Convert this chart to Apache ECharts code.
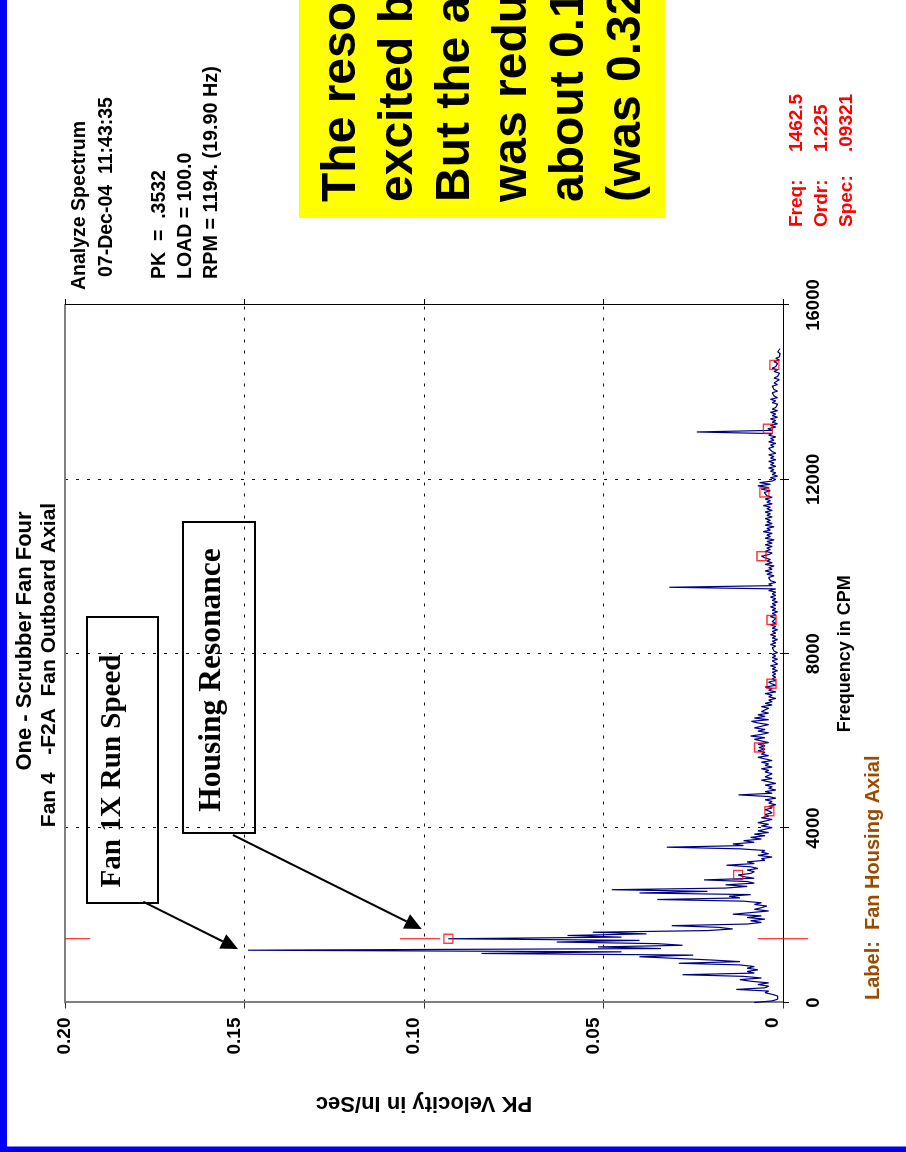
<!DOCTYPE html>
<html>
<head>
<meta charset="utf-8">
<title>Fan 4 - Analyze Spectrum</title>
<script src="https://cdn.jsdelivr.net/npm/echarts@6/dist/echarts.min.js"></script>
<style>
  html, body { margin: 0; padding: 0; background: #fff; overflow: hidden; }
  #page { position: absolute; left: 0; top: 0; width: 906px; height: 1152px; overflow: hidden; background: #fff; }
  /* the slide is laid out landscape and turned a quarter turn counter-clockwise */
  #slide { position: absolute; left: 0; top: 0; width: 1152px; height: 906px;
           transform-origin: 0 0; transform: translate(0, 1152px) rotate(-90deg); }
  #chart { position: absolute; left: 0; top: 0; width: 1152px; height: 906px; }
</style>
</head>
<body>
<div id="page"><div id="slide"><div id="chart"></div></div></div>
<script>
// ---- spectrum data: 400-line FFT, 15000 CPM span, one value per 37.5 CPM line ----
const binWidthCPM = 37.5;
const velocity = [
  // 0 - 712.5
  0.008, 0.003, 0.0015, 0.002, 0.0015, 0.003, 0.005, 0.004, 0.013, 0.005, 0.004, 0.007, 0.004, 0.009, 0.012, 0.006, 0.011, 0.028, 0.008, 0.010,
  // 750 - 1462.5
  0.007, 0.010, 0.008, 0.012, 0.029, 0.012, 0.020, 0.030, 0.040, 0.025, 0.084, 0.045, 0.149, 0.034, 0.0515, 0.028, 0.035, 0.063, 0.040, 0.09321,
  // 1500 - 2212.5
  0.045, 0.060, 0.038, 0.053, 0.021, 0.014, 0.018, 0.031, 0.010, 0.006, 0.009, 0.005, 0.010, 0.006, 0.014, 0.009, 0.004, 0.008, 0.006, 0.0045,
  // 2250 - 2962.5
  0.008, 0.006, 0.011, 0.035, 0.012, 0.015, 0.009, 0.040, 0.021, 0.0477, 0.016, 0.010, 0.016, 0.008, 0.010, 0.022, 0.008, 0.011, 0.0125, 0.009,
  // 3000 - 3712.5
  0.008, 0.010, 0.007, 0.009, 0.0157, 0.008, 0.010, 0.005, 0.006, 0.003, 0.007, 0.004, 0.006, 0.005, 0.012, 0.0324, 0.011, 0.014, 0.008, 0.011,
  // 3750 - 4462.5
  0.006, 0.009, 0.005, 0.008, 0.004, 0.007, 0.005, 0.003, 0.006, 0.004, 0.007, 0.005, 0.003, 0.006, 0.004, 0.005, 0.003, 0.0038, 0.005, 0.003,
  // 4500 - 5212.5
  0.004, 0.002, 0.004, 0.003, 0.005, 0.002, 0.004, 0.0124, 0.003, 0.005, 0.002, 0.004, 0.003, 0.005, 0.002, 0.004, 0.006, 0.003, 0.005, 0.004,
  // 5250 - 5962.5
  0.003, 0.005, 0.004, 0.006, 0.003, 0.005, 0.004, 0.006, 0.003, 0.005, 0.007, 0.004, 0.006, 0.005, 0.007, 0.005, 0.0067, 0.005, 0.007, 0.004,
  // 6000 - 6712.5
  0.006, 0.008, 0.005, 0.009, 0.006, 0.004, 0.007, 0.005, 0.008, 0.006, 0.004, 0.007, 0.0088, 0.004, 0.008, 0.005, 0.007, 0.004, 0.006, 0.005,
  // 6750 - 7462.5
  0.004, 0.006, 0.003, 0.005, 0.003, 0.004, 0.002, 0.004, 0.003, 0.005, 0.002, 0.004, 0.003, 0.005, 0.002, 0.0032, 0.004, 0.002, 0.003, 0.002,
  // 7500 - 8212.5
  0.003, 0.002, 0.003, 0.0015, 0.003, 0.002, 0.0035, 0.0015, 0.002, 0.003, 0.0015, 0.003, 0.002, 0.003, 0.0015, 0.0025, 0.002, 0.003, 0.002, 0.0035,
  // 8250 - 8962.5
  0.002, 0.003, 0.0015, 0.003, 0.002, 0.0035, 0.002, 0.003, 0.0015, 0.003, 0.002, 0.0035, 0.002, 0.003, 0.0032, 0.002, 0.0035, 0.002, 0.003, 0.0015,
  // 9000 - 9712.5
  0.003, 0.002, 0.0035, 0.002, 0.003, 0.0015, 0.003, 0.002, 0.0035, 0.002, 0.003, 0.002, 0.004, 0.002, 0.0317, 0.003, 0.004, 0.002, 0.0035, 0.003,
  // 9750 - 10462.5
  0.004, 0.0025, 0.0045, 0.003, 0.005, 0.003, 0.004, 0.0025, 0.005, 0.003, 0.0045, 0.0035, 0.005, 0.006, 0.004, 0.003, 0.005, 0.0035, 0.0045, 0.003,
  // 10500 - 11212.5
  0.005, 0.003, 0.0045, 0.0025, 0.005, 0.0035, 0.0045, 0.003, 0.0055, 0.0035, 0.0045, 0.0025, 0.005, 0.003, 0.0045, 0.0035, 0.005, 0.003, 0.0045, 0.0035,
  // 11250 - 11962.5
  0.005, 0.003, 0.0045, 0.0035, 0.0055, 0.003, 0.0045, 0.0035, 0.005, 0.003, 0.0045, 0.004, 0.0052, 0.0035, 0.006, 0.004, 0.007, 0.0035, 0.0065, 0.003,
  // 12000 - 12712.5
  0.002, 0.0035, 0.0015, 0.003, 0.002, 0.0035, 0.0025, 0.004, 0.002, 0.0035, 0.0025, 0.004, 0.002, 0.0035, 0.0025, 0.004, 0.002, 0.003, 0.0025, 0.004,
  // 12750 - 13462.5
  0.0025, 0.0035, 0.002, 0.004, 0.0025, 0.0035, 0.002, 0.004, 0.003, 0.024, 0.003, 0.0042, 0.002, 0.0035, 0.0015, 0.003, 0.002, 0.0035, 0.0015, 0.003,
  // 13500 - 14212.5
  0.002, 0.0035, 0.0015, 0.003, 0.002, 0.0025, 0.0015, 0.003, 0.002, 0.0035, 0.0015, 0.0025, 0.002, 0.003, 0.0015, 0.0025, 0.002, 0.003, 0.0015, 0.0025,
  // 14250 - 14962.5
  0.002, 0.001, 0.0025, 0.0015, 0.002, 0.001, 0.0025, 0.0015, 0.003, 0.002, 0.0024, 0.0015, 0.0025, 0.001, 0.002, 0.001, 0.0015, 0.0008, 0.0015, 0.001,
  // 15000
  0.0008
];

// ---- cursor / harmonic markers ----
const cursorFreq = 1462.5;
const harmonicCount = 10;

// ---- axes ----
const freqMin = 0, freqMax = 16000, freqStep = 4000;
const velMin = 0, velMax = 0.20, velStep = 0.05;
const freqAxisName = 'Frequency in CPM';
const velAxisName = 'PK Velocity in In/Sec';

// ---- texts ----
const titleLines = ['One - Scrubber Fan Four', 'Fan 4   -F2A  Fan Outboard Axial'];
const infoLines = ['Analyze Spectrum', '07-Dec-04  11:43:35', 'PK  =  .3532', 'LOAD = 100.0', 'RPM = 1194. (19.90 Hz)'];
const cursorNames = ['Freq:', 'Ordr:', 'Spec:'];
const cursorValues = ['1462.5', '1.225', '.09321'];
const pointLabel = 'Label:  Fan Housing Axial';
const callouts = ['Fan 1X Run Speed', 'Housing Resonance'];
const noteLines = ['The resonance is still', 'excited by the fan.', 'But the amplitude', 'was reduced to', 'about 0.15 In/Sec', '(was 0.32 In/Sec)'];

// ---------------------------------------------------------------
const SANS = "'Liberation Sans', Arial, Helvetica, sans-serif";
const SERIF = "'Liberation Serif', 'Times New Roman', serif";
const NAVY = '#000080';
const RED = '#ff0000';

const spectrum = velocity.map((v, i) => [i * binWidthCPM, v]);
const harmonics = [];
for (let n = 1; n <= harmonicCount; n++) {
  const f = cursorFreq * n;
  const idx = Math.round(f / binWidthCPM);
  harmonics.push([f, velocity[idx]]);
}

const chart = echarts.init(document.getElementById('chart'), null, { renderer: 'canvas', width: 1152, height: 906 });

const gridBox = { left: 149.5, top: 65, width: 697.5, height: 718 };

const option = {
  animation: false,
  backgroundColor: '#ffffff',
  grid: Object.assign({ containLabel: false, outerBoundsMode: 'none' }, gridBox),
  xAxis: [{
    type: 'value', min: freqMin, max: freqMax, interval: freqStep, position: 'bottom',
    name: freqAxisName, nameLocation: 'middle', nameGap: 53, nameMoveOverlap: false,
    nameTextStyle: { fontFamily: SANS, fontWeight: 'bold', fontSize: 18, color: '#000' },
    axisLine: { show: true, onZero: false, lineStyle: { color: '#000', width: 1 } },
    axisTick: { show: true, inside: false, length: 6, lineStyle: { color: '#000', width: 1 } },
    axisLabel: { show: true, margin: 21, fontFamily: SANS, fontWeight: 'bold', fontSize: 18.5, color: '#000',
                 showMinLabel: true, showMaxLabel: true, hideOverlap: false,
                 formatter: function (v) { return String(v); } },
    splitLine: { show: true, lineStyle: { color: '#111', width: 1, type: [3, 8] } }
  }, {
    type: 'value', min: freqMin, max: freqMax, interval: freqStep, position: 'top',
    axisLine: { show: true, onZero: false, lineStyle: { color: '#808080', width: 2 } },
    axisTick: { show: false }, axisLabel: { show: false }, splitLine: { show: false }
  }],
  yAxis: [{
    type: 'value', min: velMin, max: velMax, interval: velStep, position: 'left',
    name: velAxisName, nameLocation: 'middle', nameGap: 90, nameRotate: 90, nameMoveOverlap: false,
    nameTextStyle: { fontFamily: SANS, fontWeight: 'bold', fontSize: 22, color: '#000' },
    axisLine: { show: true, onZero: false, lineStyle: { color: '#808080', width: 2 } },
    axisTick: { show: true, inside: false, length: 6, lineStyle: { color: '#333', width: 1 } },
    axisLabel: {
      show: true, margin: 15, verticalAlign: 'middle', showMinLabel: true, showMaxLabel: true, hideOverlap: false,
      formatter: function (v) {
        if (v === 0) return '{lo|0}';
        if (v >= velMax - 1e-9) return '{hi|' + v.toFixed(2) + '}';
        return '{lo|' + v.toFixed(2) + '}';
      },
      rich: {
        lo: { fontFamily: SANS, fontWeight: 'bold', fontSize: 19, color: '#000', padding: [0, 0, 20, 0] },
        hi: { fontFamily: SANS, fontWeight: 'bold', fontSize: 19, color: '#000', padding: [0, 0, 0, 0] }
      }
    },
    splitLine: { show: true, lineStyle: { color: '#111', width: 1, type: [3, 8] } }
  }, {
    type: 'value', min: velMin, max: velMax, interval: velStep, position: 'right',
    axisLine: { show: true, onZero: false, lineStyle: { color: '#000', width: 1 } },
    axisTick: { show: true, inside: false, length: 6, lineStyle: { color: '#000', width: 1 } },
    axisLabel: { show: false }, splitLine: { show: false }
  }],
  series: [{
    type: 'line', name: 'spectrum', xAxisIndex: 0, yAxisIndex: 0,
    data: spectrum, showSymbol: false, symbol: 'none', clip: true,
    lineStyle: { color: NAVY, width: 1.2 }, z: 3
  }, {
    type: 'scatter', name: 'harmonics', xAxisIndex: 0, yAxisIndex: 0,
    data: harmonics, symbol: 'rect', symbolSize: 9,
    itemStyle: { color: 'rgba(255,255,255,0)', borderColor: RED, borderWidth: 1.4 }, z: 4
  }]
};
chart.setOption(option);

// ---- overlay drawing: cursor ticks, callouts, texts ----
function toPx(f, v) { return chart.convertToPixel({ gridIndex: 0 }, [f, v]); }
const spec = velocity[Math.round(cursorFreq / binWidthCPM)];
const cursorSegs = [[velMax, velMax - 0.007], [spec + 0.0135, spec + 0.0023], [0.007, -0.007]];
const graphics = [];

// slide border strips
graphics.push({ type: 'rect', shape: { x: 0, y: 0, width: 1152, height: 7 }, style: { fill: '#0000f0' }, z: 20 });
graphics.push({ type: 'rect', shape: { x: 0, y: 0, width: 5.5, height: 906 }, style: { fill: '#0000f0' }, z: 20 });

cursorSegs.forEach(function (s) {
  const a = toPx(cursorFreq, s[0]);
  const b = toPx(cursorFreq, s[1]);
  graphics.push({ type: 'line', shape: { x1: a[0], y1: a[1], x2: b[0], y2: b[1] }, style: { stroke: RED, lineWidth: 1 }, z: 15 });
});

function sansText(txt, x, y, size, color, align) {
  return { type: 'text', x: x, y: y, z: 15,
           style: { text: txt, fontFamily: SANS, fontWeight: 'bold', fontSize: size, fill: color,
                    textAlign: align || 'left', textVerticalAlign: 'middle' } };
}

// title
graphics.push(sansText(titleLines[0], 511, 25, 22, '#000', 'center'));
graphics.push(sansText(titleLines[1], 487, 49.5, 21, '#000', 'center'));

// info block
graphics.push(sansText(infoLines[0], 862, 80, 19.5, '#000'));
graphics.push(sansText(infoLines[1], 875, 107, 19.5, '#000'));
graphics.push(sansText(infoLines[2], 873, 160, 19.5, '#000'));
graphics.push(sansText(infoLines[3], 873, 186, 19.5, '#000'));
graphics.push(sansText(infoLines[4], 873, 212, 19.8, '#000'));

// cursor readout
[797, 822, 847].forEach(function (y, i) {
  graphics.push(sansText(cursorNames[i], 925, y, 19, RED));
  graphics.push(sansText(cursorValues[i], 1000, y, 19, RED));
});

// point label
graphics.push(sansText(pointLabel, 152, 873.5, 20, '#994c00'));

// callout boxes
function callout(txt, box, tx, ty, size) {
  graphics.push({ type: 'rect', shape: box, style: { fill: 'none', stroke: '#000', lineWidth: 2 }, z: 14 });
  graphics.push({ type: 'text', x: tx, y: ty, z: 15,
                  style: { text: txt, fontFamily: SERIF, fontWeight: 'bold', fontSize: size, fill: '#000',
                           textAlign: 'center', textVerticalAlign: 'middle' } });
}
callout(callouts[0], { x: 249, y: 87, width: 286, height: 71 }, 381, 113, 29);
callout(callouts[1], { x: 319, y: 183, width: 311, height: 72 }, 472, 212, 31.5);

function arrow(x1, y1, x2, y2) {
  const dx = x2 - x1, dy = y2 - y1;
  const len = Math.sqrt(dx * dx + dy * dy);
  const ux = dx / len, uy = dy / len;
  const headLen = 17, headHalf = 8;
  const bx = x2 - ux * headLen, by = y2 - uy * headLen;
  graphics.push({ type: 'line', shape: { x1: x1, y1: y1, x2: bx, y2: by }, style: { stroke: '#000', lineWidth: 2 }, z: 14 });
  graphics.push({ type: 'polygon', shape: { points: [[x2, y2], [bx - uy * headHalf, by + ux * headHalf], [bx + uy * headHalf, by - ux * headHalf]] },
                  style: { fill: '#000' }, z: 14 });
}
arrow(250.3, 143.3, 203, 238);
arrow(317, 233, 223, 421.7);

// note box
graphics.push({ type: 'rect', shape: { x: 934, y: 299, width: 240, height: 366 }, style: { fill: '#ffff00' }, z: 16 });
[366, 423, 480, 537, 594, 651].forEach(function (base, i) {
  graphics.push({ type: 'text', x: 950, y: base, z: 17,
                  style: { text: noteLines[i], fontFamily: SANS, fontWeight: 'bold', fontSize: 48, fill: '#000',
                           textAlign: 'left', textVerticalAlign: 'bottom' } });
});

chart.setOption({ graphic: { elements: graphics } });
</script>
</body>
</html>
